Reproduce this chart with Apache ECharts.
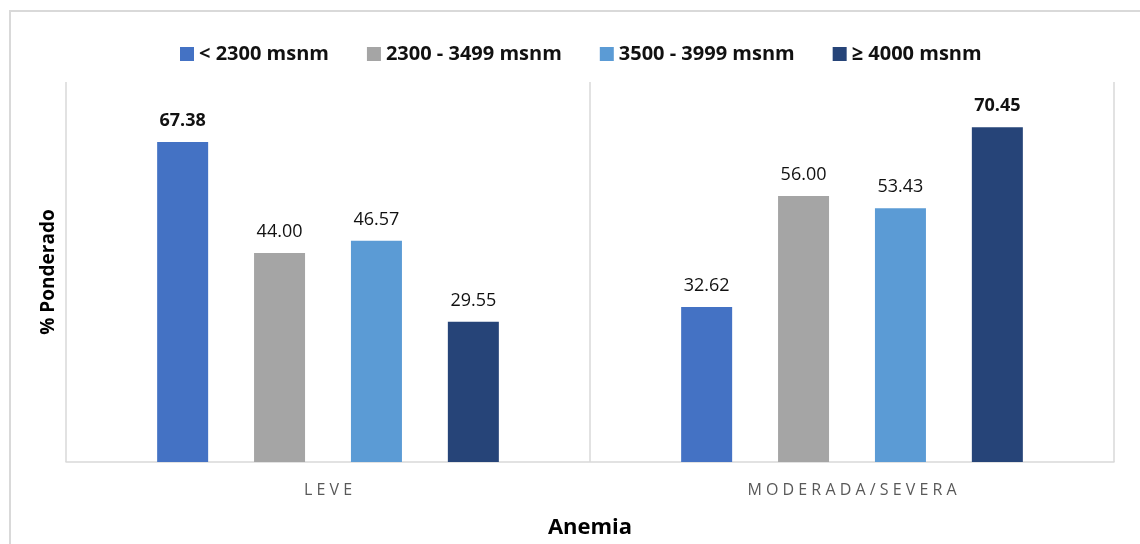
<!DOCTYPE html>
<html>
<head>
<meta charset="utf-8">
<script src="https://cdn.jsdelivr.net/npm/echarts@6/dist/echarts.min.js"></script>
<style>
  html, body { margin: 0; padding: 0; background: #ffffff; overflow: hidden; }
  #chart { width: 1140px; height: 544px; }
</style>
</head>
<body>
<div id="chart"></div>
<script>
// Anemia severity by altitude band (weighted %)
const categories = ['LEVE', 'MODERADA/SEVERA'];
const seriesNames = ['< 2300 msnm', '2300 - 3499 msnm', '3500 - 3999 msnm', '≥ 4000 msnm'];
const seriesColors = ['#4472C4', '#A5A5A5', '#5B9BD5', '#264478'];
const valuesBelow2300 = [67.38, 32.62];
const values2300to3499 = [44.00, 56.00];
const values3500to3999 = [46.57, 53.43];
const values4000plus = [29.55, 70.45];

const allValues = [valuesBelow2300, values2300to3499, values3500to3999, values4000plus];

// highest bar in each category gets a bold label
const categoryMax = categories.map((_, ci) => Math.max(...allValues.map(v => v[ci])));

const FONT = '"Open Sans", "Noto Sans", sans-serif';

const series = allValues.map((vals, si) => ({
  name: seriesNames[si],
  type: 'bar',
  barWidth: 51,
  barGap: '90%',
  itemStyle: { color: seriesColors[si] },
  data: vals.map((v, ci) => ({
    value: v,
    label: { fontWeight: v === categoryMax[ci] ? 'bold' : 'normal' }
  })),
  label: {
    show: true,
    position: 'top',
    distance: 12,
    fontFamily: FONT,
    fontSize: 18,
    color: '#111111',
    formatter: p => p.value.toFixed(2)
  }
}));

const chart = echarts.init(document.getElementById('chart'), null, { renderer: 'canvas' });
chart.setOption({
  animation: false,
  backgroundColor: '#ffffff',
  graphic: [{
    type: 'rect',
    silent: true,
    shape: { x: 10, y: 11, width: 1200, height: 600 },
    style: { fill: 'none', stroke: '#d9d9d9', lineWidth: 2 }
  }],
  legend: {
    left: 175,
    top: 39,
    itemWidth: 14,
    itemHeight: 14,
    itemGap: 38,
    icon: 'rect',
    textStyle: { fontFamily: FONT, fontSize: 20, fontWeight: 'bold', color: '#111111' },
    data: seriesNames
  },
  grid: { left: 66, right: 26, top: 82, bottom: 77, containLabel: false },
  xAxis: {
    type: 'category',
    data: categories,
    name: 'Anemia',
    nameLocation: 'middle',
    nameGap: 55,
    nameTextStyle: { fontFamily: FONT, fontSize: 22, fontWeight: 'bold', color: '#000000' },
    axisLine: { show: true, lineStyle: { color: '#d9d9d9', width: 1.5 } },
    axisTick: { show: false },
    splitLine: { show: true, interval: 0, lineStyle: { color: '#d9d9d9', width: 1.5 } },
    axisLabel: {
      margin: 20,
      fontFamily: FONT,
      fontSize: 16,
      color: '#595959',
      formatter: s => s.split('').join(' ')
    }
  },
  yAxis: {
    type: 'value',
    min: 0,
    max: 80,
    name: '% Ponderado',
    nameLocation: 'middle',
    nameGap: 8,
    nameRotate: 90,
    nameTextStyle: { fontFamily: FONT, fontSize: 19, fontWeight: 'bold', color: '#000000' },
    axisLine: { show: false },
    axisTick: { show: false },
    axisLabel: { show: false },
    splitLine: { show: false }
  },
  series: series
});
</script>
</body>
</html>
